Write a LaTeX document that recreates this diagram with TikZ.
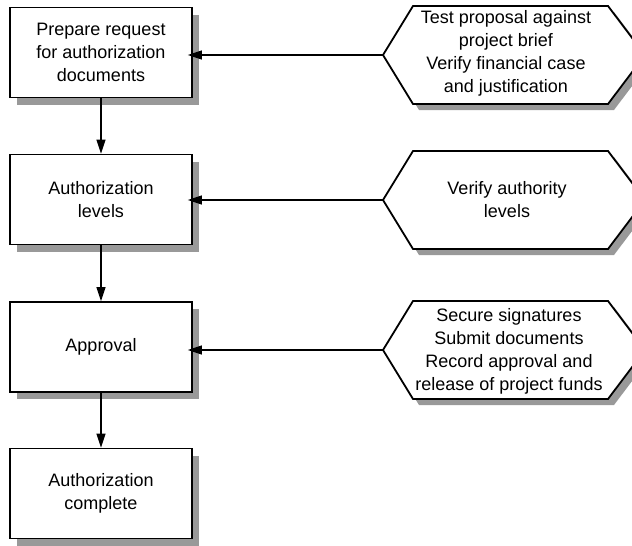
\documentclass[tikz,border=0pt]{standalone}
\usepackage{fontspec}
\setmainfont{Liberation Sans}
\usetikzlibrary{arrows.meta,shadows}
\definecolor{shadowgray}{RGB}{153,153,153}
\begin{document}
\begin{tikzpicture}[x=1pt,y=-1pt,
  label font/.style={font=\fontsize{18}{23}\selectfont},
  stepbox/.style={label font, draw=black, line width=1.8pt, fill=white,
    minimum width=182pt, minimum height=90pt, align=center, inner sep=0pt,
    drop shadow={shadow xshift=7pt, shadow yshift=-7pt, fill=shadowgray, opacity=1}},
  hexline/.style={draw=black, line width=1.8pt, fill=white, line join=miter},
  hexshadow/.style={fill=shadowgray},
  hextext/.style={label font, align=center, inner sep=0pt},
  flow/.style={draw=black, line width=1.3pt, -{Triangle[length=14pt,width=9pt]}},
]
\useasboundingbox (0,0) rectangle (632,546);
\clip (0,0) rectangle (632,546);

% process steps on the left
\node[stepbox] (b1) at (101,52.5) {Prepare request\\for authorization\\documents};
\node[stepbox] (b2) at (101,199.5) {Authorization\\levels};
\node[stepbox] (b3) at (101,347) {Approval};
\node[stepbox] (b4) at (101,493.5) {Authorization\\complete};

% checks on the right, drawn as hexagons: \hexagon{name}{centre y}{half height}
\newcommand\hexagon[3]{%
  \coordinate (#1l) at (383,#2);
  \fill[hexshadow] (389,#2+6) -- (419,#2-#3+6) -- (614,#2-#3+6) -- (651,#2+6)
    -- (614,#2+#3+6) -- (419,#2+#3+6) -- cycle;
  \path[hexline] (#1l) -- (413,#2-#3) -- (608,#2-#3) -- (645,#2)
    -- (608,#2+#3) -- (413,#2+#3) -- cycle;
}
\hexagon{h1}{55}{49}
\hexagon{h2}{200}{49}
\hexagon{h3}{350}{49}

\node[hextext] (t1) at (506,53) {Test proposal against\\project brief\\Verify financial case\\and justification};
\node[hextext] (t2) at (507,200) {Verify authority\\levels};
\node[hextext] (t3) at (509,351) {Secure signatures\\Submit documents\\Record approval and\\release of project funds};

% connectors
\draw[flow] (b1.south) -- (b2.north);
\draw[flow] (b2.south) -- (b3.north);
\draw[flow] (b3.south) -- (b4.north);
\draw[flow, shorten >=-5pt] (h1l) -- (h1l -| b1.east);
\draw[flow, shorten >=-5pt] (h2l) -- (h2l -| b2.east);
\draw[flow, shorten >=-5pt] (h3l) -- (h3l -| b3.east);
\end{tikzpicture}
\end{document}
